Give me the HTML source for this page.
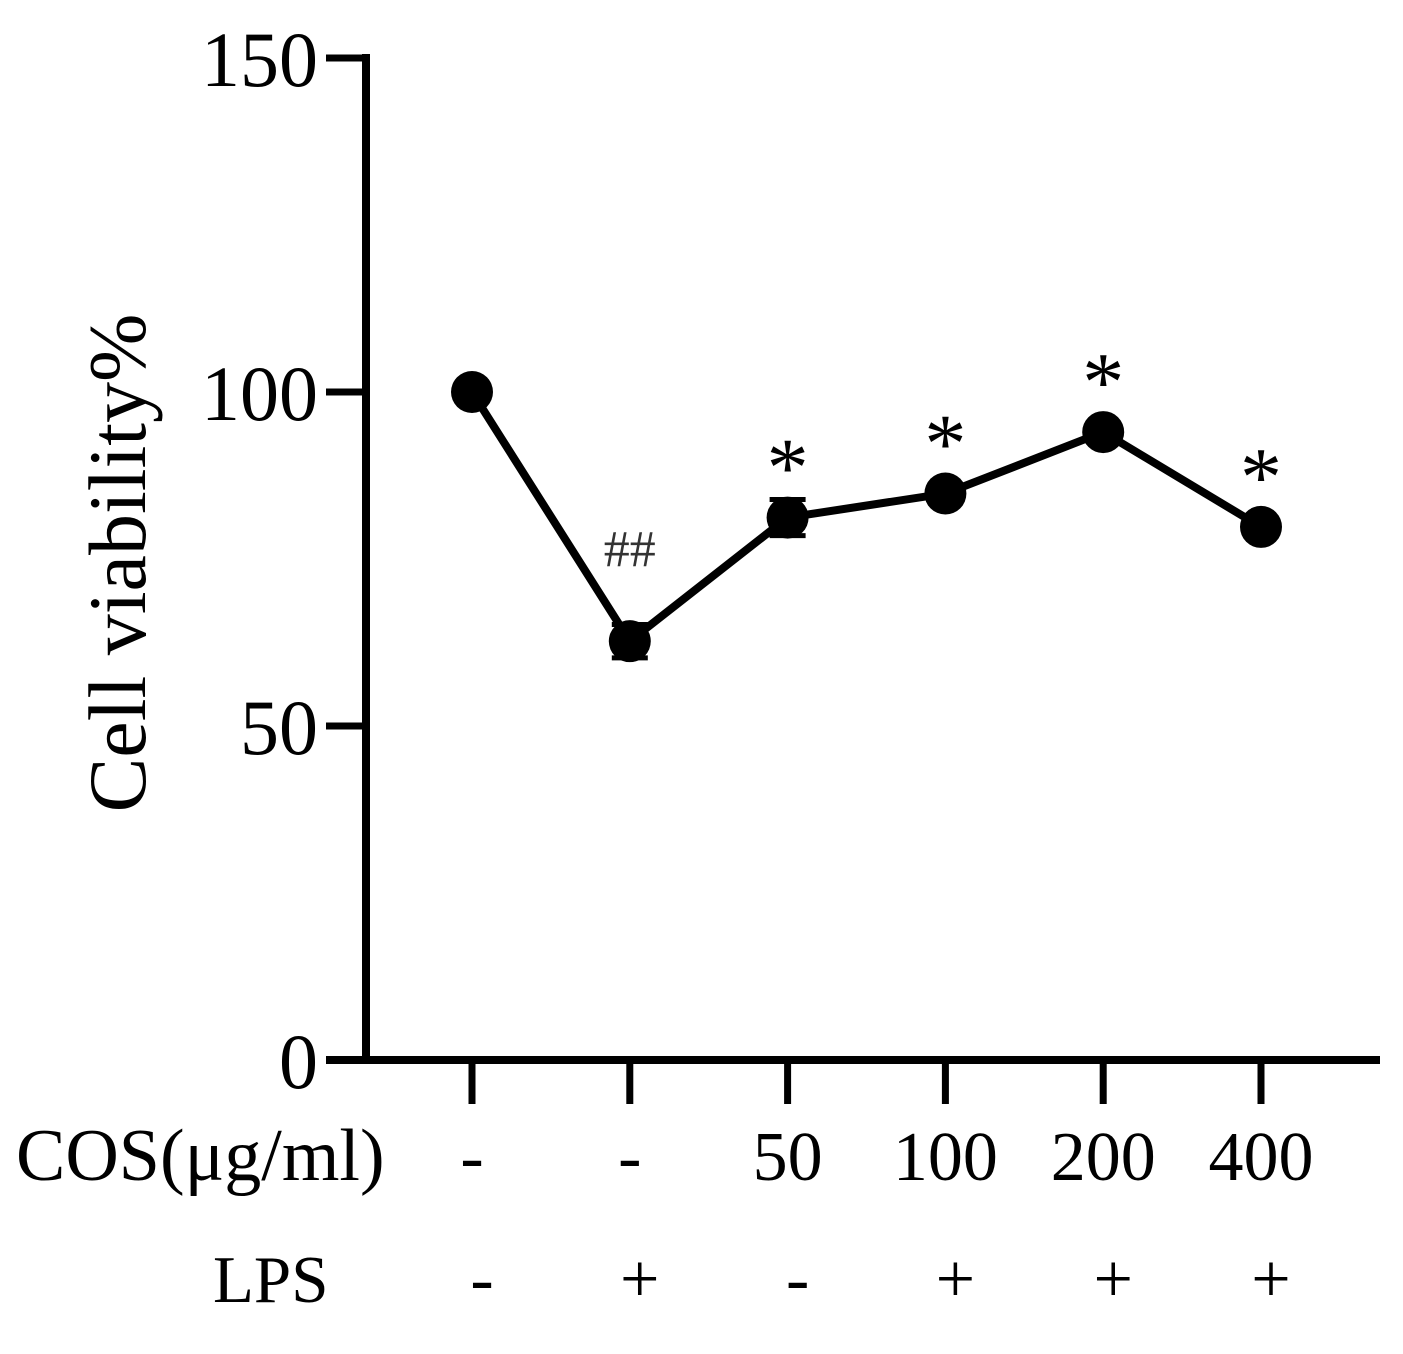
<!DOCTYPE html>
<html><head><meta charset="utf-8"><style>
body{margin:0;background:#fff}
svg{display:block;font-family:"Liberation Serif",serif}
</style></head><body>
<svg id="chart" width="1403" height="1354" viewBox="0 0 1403 1354">
<g id="axes"></g><g id="marks"></g>
<text transform="translate(145,563) rotate(-90)" text-anchor="middle" font-size="82">Cell viability%</text>
<text x="16" y="1180" font-size="74">COS(μg/ml)</text>
<text x="213" y="1302" font-size="67">LPS</text>
</svg>
<script>
const categories=["1","2","3","4","5","6"];
const values=[100,62.7,81.2,84.8,94.0,79.8];
const errors=[0,2.5,2.7,0,0,0];
const marks=["","##","*","*","*","*"];
const cosLabels=["-","-","50","100","200","400"];
const lpsLabels=["-","+","-","+","+","+"];
const yTicks=[0,50,100,150];
const NS="http://www.w3.org/2000/svg";
const y=v=>1060-v*6.68;
const x=i=>472+i*157.8;
function mk(t,a,p){const e=document.createElementNS(NS,t);for(const k in a)e.setAttribute(k,a[k]);p.appendChild(e);return e;}
const ax=document.getElementById('axes'),mg=document.getElementById('marks');
let e=mk('line',{x1:366,y1:54,x2:366,y2:1064,stroke:'#000','stroke-width':8},ax);

e=mk('line',{x1:326,y1:1060,x2:1380,y2:1060,stroke:'#000','stroke-width':8},ax);

yTicks.forEach(t=>{
 let l=mk('line',{x1:326,y1:y(t),x2:366,y2:y(t),stroke:'#000','stroke-width':7},ax);
 
 let tx=mk('text',{x:318,y:y(t)+28,'text-anchor':'end','font-size':78},ax);tx.textContent=t;
 
});
categories.forEach((c,i)=>{
 let l=mk('line',{x1:x(i),y1:1060,x2:x(i),y2:1104,stroke:'#000','stroke-width':7},ax);
 
 let t=mk('text',{x:x(i),y:1180,'text-anchor':'middle','font-size':70},ax);t.textContent=cosLabels[i];
 
 let t2=mk('text',{x:x(i)+10,y:1302,'text-anchor':'middle','font-size':70},ax);t2.textContent=lpsLabels[i];
 
});
let pts=values.map((v,i)=>x(i)+','+y(v)).join(' ');
e=mk('polyline',{points:pts,fill:'none',stroke:'#000','stroke-width':8},mg);

values.forEach((v,i)=>{
 if(errors[i]>0){
  let eb=mk('path',{d:`M${x(i)-18},${y(v+errors[i])}H${x(i)+18}M${x(i)},${y(v+errors[i])}V${y(v-errors[i])}M${x(i)-18},${y(v-errors[i])}H${x(i)+18}`,stroke:'#000','stroke-width':5,fill:'none'},mg);
  
 }
 let c=mk('circle',{cx:x(i),cy:y(v),r:21,fill:'#000'},mg);
 
 if(marks[i]){
  let isH=marks[i]==='##';
  let t=mk('text',{x:x(i),y:isH?y(v)-75:y(v)-22,'text-anchor':'middle','font-size':isH?52:84,fill:isH?'#333':'#000'},mg);
  t.textContent=marks[i];
  
 }
});
</script>
</body></html>
